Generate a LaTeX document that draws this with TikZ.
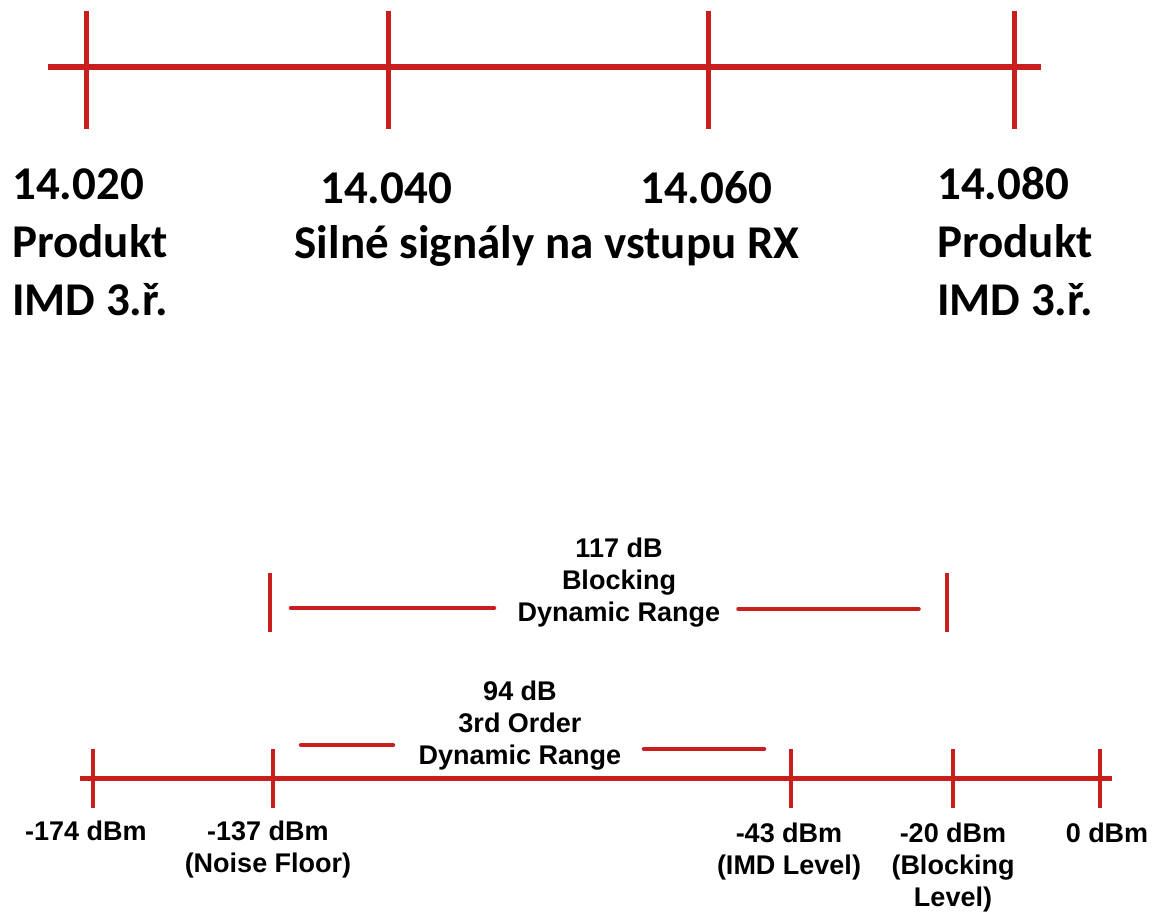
\documentclass[tikz,border=0pt]{standalone}
\usepackage{fontspec}
\newfontfamily\calfont{Carlito}
\newfontfamily\arfont{Liberation Sans}
\usetikzlibrary{positioning}
\definecolor{axisred}{RGB}{200,30,30}

\begin{document}
\begin{tikzpicture}[
        x=1pt,
        y=-1pt,
        axis/.style={
            draw=axisred,
            line width=5pt
        },
        tickmark/.style={
            draw=axisred,
            line width=4.5pt
        },
        rangebar/.style={
            draw=axisred,
            line width=4.5pt,
            line cap=round
        },
        freq/.style={
            font=\calfont\bfseries\fontsize{47}{58}\selectfont,
            inner sep=0pt,
            align=left
        },
        level/.style={
            font=\arfont\bfseries\fontsize{27}{32}\selectfont,
            inner sep=0pt,
            align=center
        }
    ]

    \useasboundingbox (0,0) rectangle (1155,912);

    % Frequency axis
    \coordinate (fstart) at (48,67);
    \coordinate (fend) at (1041,67);
    \draw[axis, line width=6pt] (fstart) -- (fend);

    \foreach \i/\x in {1/86,2/388,3/708,4/1014} {
        \coordinate (ftop\i) at (\x,11);
        \coordinate (fbot\i) at (\x,129);
        \draw[tickmark, line width=5pt] (ftop\i) -- (fbot\i);
    }

    % Frequency labels (base = last line)
    \node[freq, anchor=base west] (f1) at (12,315) {14.020\\Produkt\\IMD 3.ř.};
    \node[freq, anchor=base] (f2) at (386,203) {14.040};
    \node[freq, anchor=base] (f3) at (706,203) {14.060};
    \node[freq, anchor=base west] (f4) at (937,315) {14.080\\Produkt\\IMD 3.ř.};
    \node[freq, anchor=base] (strong) at (547,258) {Silné signály na vstupu RX};

    % Level axis
    \coordinate (lstart) at (80,778);
    \coordinate (lend) at (1112,778);
    \draw[axis] (lstart) -- (lend);

    \foreach \i/\x in {1/93,2/273,3/791,4/953,5/1100} {
        \coordinate (ltop\i) at (\x,749);
        \coordinate (lbot\i) at (\x,808);
        \draw[tickmark] (ltop\i) -- (lbot\i);
    }

    % Level labels
    \node[level, anchor=base] (l1) at (86,840) {-174 dBm};
    \node[level, anchor=base] (l2) at (268,872) {-137 dBm\\(Noise Floor)};
    \node[level, anchor=base] (l3) at (789,874) {-43 dBm\\(IMD Level)};
    \node[level, anchor=base] (l4) at (953,906) {-20 dBm\\(Blocking\\Level)};
    \node[level, anchor=base] (l5) at (1107,842) {0 dBm};

    % Blocking dynamic range
    \coordinate (btop1) at (270,573);
    \coordinate (bbot1) at (270,632);
    \coordinate (btop2) at (947,573);
    \coordinate (bbot2) at (947,632);
    \draw[tickmark, line width=4pt] (btop1) -- (bbot1);
    \draw[tickmark, line width=4pt] (btop2) -- (bbot2);

    \node[level, anchor=base] (bdr) at (619,621) {117 dB\\Blocking\\Dynamic Range};

    \coordinate (ba) at (291,608);
    \coordinate (bb) at (494,608);
    \coordinate (bc) at (738,609);
    \coordinate (bd) at (919,609);
    \draw[rangebar] (ba) -- (bb);
    \draw[rangebar, line width=3.5pt] (bc) -- (bd);

    % Third order dynamic range
    \node[level, anchor=base] (tdr) at (520,764) {94 dB\\3rd Order\\Dynamic Range};

    \coordinate (ta) at (301,745);
    \coordinate (tb) at (393,745);
    \coordinate (tc) at (644,749);
    \coordinate (td) at (764,749);
    \draw[rangebar] (ta) -- (tb);
    \draw[rangebar] (tc) -- (td);

\end{tikzpicture}
\end{document}
